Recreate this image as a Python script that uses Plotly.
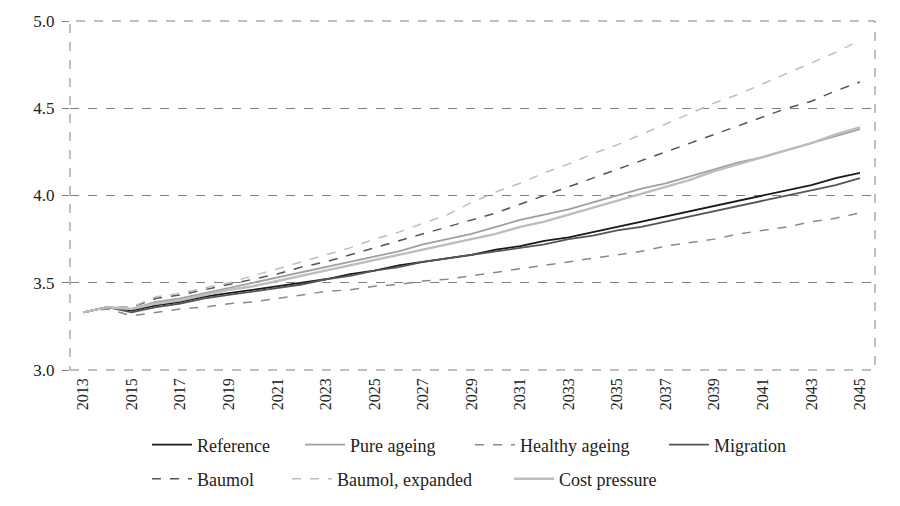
import plotly.graph_objects as go

years = list(range(2013, 2046))

reference = [3.33, 3.36, 3.34, 3.37, 3.39, 3.42, 3.44, 3.46, 3.48, 3.50, 3.52, 3.55, 3.57, 3.60, 3.62, 3.64, 3.66,
             3.69, 3.71, 3.74, 3.76, 3.79, 3.82, 3.85, 3.88, 3.91, 3.94, 3.97, 4.00, 4.03, 4.06, 4.10, 4.13]
pure_ageing = [3.33, 3.36, 3.35, 3.39, 3.41, 3.44, 3.47, 3.50, 3.53, 3.56, 3.59, 3.62, 3.65, 3.68, 3.72, 3.75, 3.78,
               3.82, 3.86, 3.89, 3.92, 3.96, 4.00, 4.04, 4.07, 4.11, 4.15, 4.19, 4.22, 4.26, 4.30, 4.34, 4.38]
healthy_ageing = [3.33, 3.35, 3.31, 3.33, 3.35, 3.36, 3.38, 3.39, 3.41, 3.43, 3.45, 3.46, 3.48, 3.49, 3.51, 3.52, 3.54,
                  3.56, 3.58, 3.60, 3.62, 3.64, 3.66, 3.68, 3.71, 3.73, 3.75, 3.78, 3.80, 3.82, 3.85, 3.87, 3.90]
migration = [3.33, 3.36, 3.33, 3.36, 3.38, 3.41, 3.43, 3.45, 3.47, 3.49, 3.52, 3.54, 3.57, 3.59, 3.62, 3.64, 3.66,
             3.68, 3.70, 3.72, 3.75, 3.77, 3.80, 3.82, 3.85, 3.88, 3.91, 3.94, 3.97, 4.00, 4.03, 4.06, 4.10]
baumol = [3.33, 3.36, 3.36, 3.41, 3.43, 3.46, 3.49, 3.52, 3.55, 3.59, 3.62, 3.66, 3.70, 3.74, 3.78, 3.82, 3.86,
          3.90, 3.95, 4.00, 4.05, 4.10, 4.15, 4.20, 4.25, 4.30, 4.35, 4.40, 4.45, 4.50, 4.54, 4.60, 4.65]
baumol_expanded = [3.33, 3.36, 3.36, 3.42, 3.44, 3.47, 3.50, 3.54, 3.58, 3.62, 3.66, 3.70, 3.75, 3.79, 3.84, 3.89, 3.96,
                   4.02, 4.07, 4.13, 4.18, 4.24, 4.29, 4.35, 4.41, 4.47, 4.53, 4.58, 4.64, 4.70, 4.76, 4.82, 4.89]
cost_pressure = [3.33, 3.36, 3.35, 3.38, 3.40, 3.43, 3.46, 3.48, 3.51, 3.54, 3.57, 3.60, 3.63, 3.66, 3.69, 3.72, 3.75,
                 3.78, 3.82, 3.85, 3.89, 3.93, 3.97, 4.01, 4.05, 4.09, 4.14, 4.18, 4.22, 4.26, 4.30, 4.35, 4.39]

tick_years = list(range(2013, 2046, 2))
y_ticks = [3.0, 3.5, 4.0, 4.5, 5.0]

# name, values, colour, dash, width, legend id, legend x (container), legend y (container)
series = [
    ("Reference", reference, "#1a1a1a", "solid", 1.8, "legend", 0.1558, 0.1225),
    ("Pure ageing", pure_ageing, "#a0a0a0", "solid", 1.8, "legend2", 0.3274, 0.1225),
    ("Healthy ageing", healthy_ageing, "#8a8a8a", "dash", 1.5, "legend3", 0.5179, 0.1225),
    ("Migration", migration, "#555555", "solid", 1.8, "legend4", 0.7354, 0.1225),
    ("Baumol", baumol, "#555555", "dash", 1.5, "legend5", 0.1558, 0.054),
    ("Baumol, expanded", baumol_expanded, "#bdbdbd", "dash", 1.5, "legend6", 0.3128, 0.054),
    ("Cost pressure", cost_pressure, "#bdbdbd", "solid", 2.4, "legend7", 0.5617, 0.054),
]

serif = "Liberation Serif, Times New Roman, Times, serif"

fig = go.Figure()
legends = {}
for name, vals, color, dash, width, leg, lx, ly in series:
    fig.add_trace(go.Scatter(x=years, y=vals, mode="lines", name=name, legend=leg, showlegend=True,
                             line=dict(color=color, dash=dash, width=width)))
    legends[leg] = dict(orientation="h", xref="container", yref="container", x=lx, xanchor="left",
                        y=ly, yanchor="middle", font=dict(family=serif, size=18, color="#222222"),
                        itemwidth=40, tracegroupgap=0, bgcolor="rgba(0,0,0,0)", visible=True)

fig.update_layout(
    width=892, height=498,
    showlegend=True,
    margin=dict(l=62, r=25, t=13, b=136, autoexpand=False),
    paper_bgcolor="white", plot_bgcolor="white",
    font=dict(family=serif, size=15, color="#222222"),
    xaxis=dict(range=[2012.46, 2045.62], tickmode="array", tickvals=tick_years,
               ticktext=[str(t) for t in tick_years], tickangle=-90, showgrid=False,
               zeroline=False, showline=False, ticks="", tickfont=dict(family=serif, size=16),
               ticklabelstandoff=4, automargin=False),
    yaxis=dict(range=[3.0, 5.0], tickmode="array", tickvals=y_ticks,
               ticktext=["%.1f" % v for v in y_ticks], showgrid=True, gridcolor="#808080",
               griddash="dash", gridwidth=1, zeroline=False, showline=False,
               ticks="outside", ticklen=7, tickcolor="#808080", tickfont=dict(family=serif, size=17),
               ticklabelstandoff=4, automargin=False),
    shapes=[dict(type="rect", xref="paper", yref="paper", x0=0, x1=1, y0=0, y1=1,
                 line=dict(color="#808080", width=1, dash="dash"))],
    **legends,
)

fig.write_html("out.html")
